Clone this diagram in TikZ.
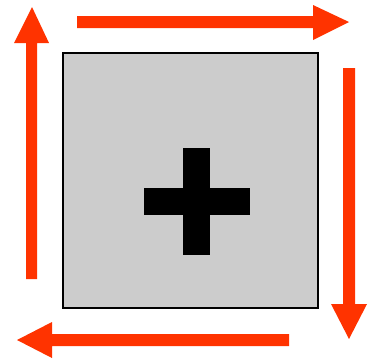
\documentclass[tikz,border=0pt]{standalone}
\definecolor{arrowred}{HTML}{FF3300}
\definecolor{boxgray}{HTML}{CCCCCC}
\begin{document}
\begin{tikzpicture}[x=1pt,y=-1pt,
  arr/.style={fill=arrowred,draw=none},
  box/.style={fill=boxgray,draw=black,line width=1.8pt},
  plus/.style={fill=black,draw=none}]
\useasboundingbox (0,0) rectangle (377,360);
% gray square
\draw[box] (63,53) rectangle (318,308);
% plus sign
\fill[plus] (183,148) rectangle (210,255);
\fill[plus] (144,188) rectangle (250,215);
% top arrow (right)
\fill[arr] (77,16) -- (313,16) -- (313,5) -- (349,22) -- (313,40) -- (313,28) -- (77,28) -- cycle;
% right arrow (down)
\fill[arr] (343,68) -- (355,68) -- (355,304) -- (367,304) -- (349,339) -- (331,304) -- (343,304) -- cycle;
% bottom arrow (left)
\fill[arr] (289,334) -- (289,346) -- (52,346) -- (52,358) -- (17,340) -- (52,322) -- (52,334) -- cycle;
% left arrow (up)
\fill[arr] (26,279) -- (37,279) -- (37,43) -- (49,43) -- (32,7) -- (14,43) -- (26,43) -- cycle;
\end{tikzpicture}
\end{document}
